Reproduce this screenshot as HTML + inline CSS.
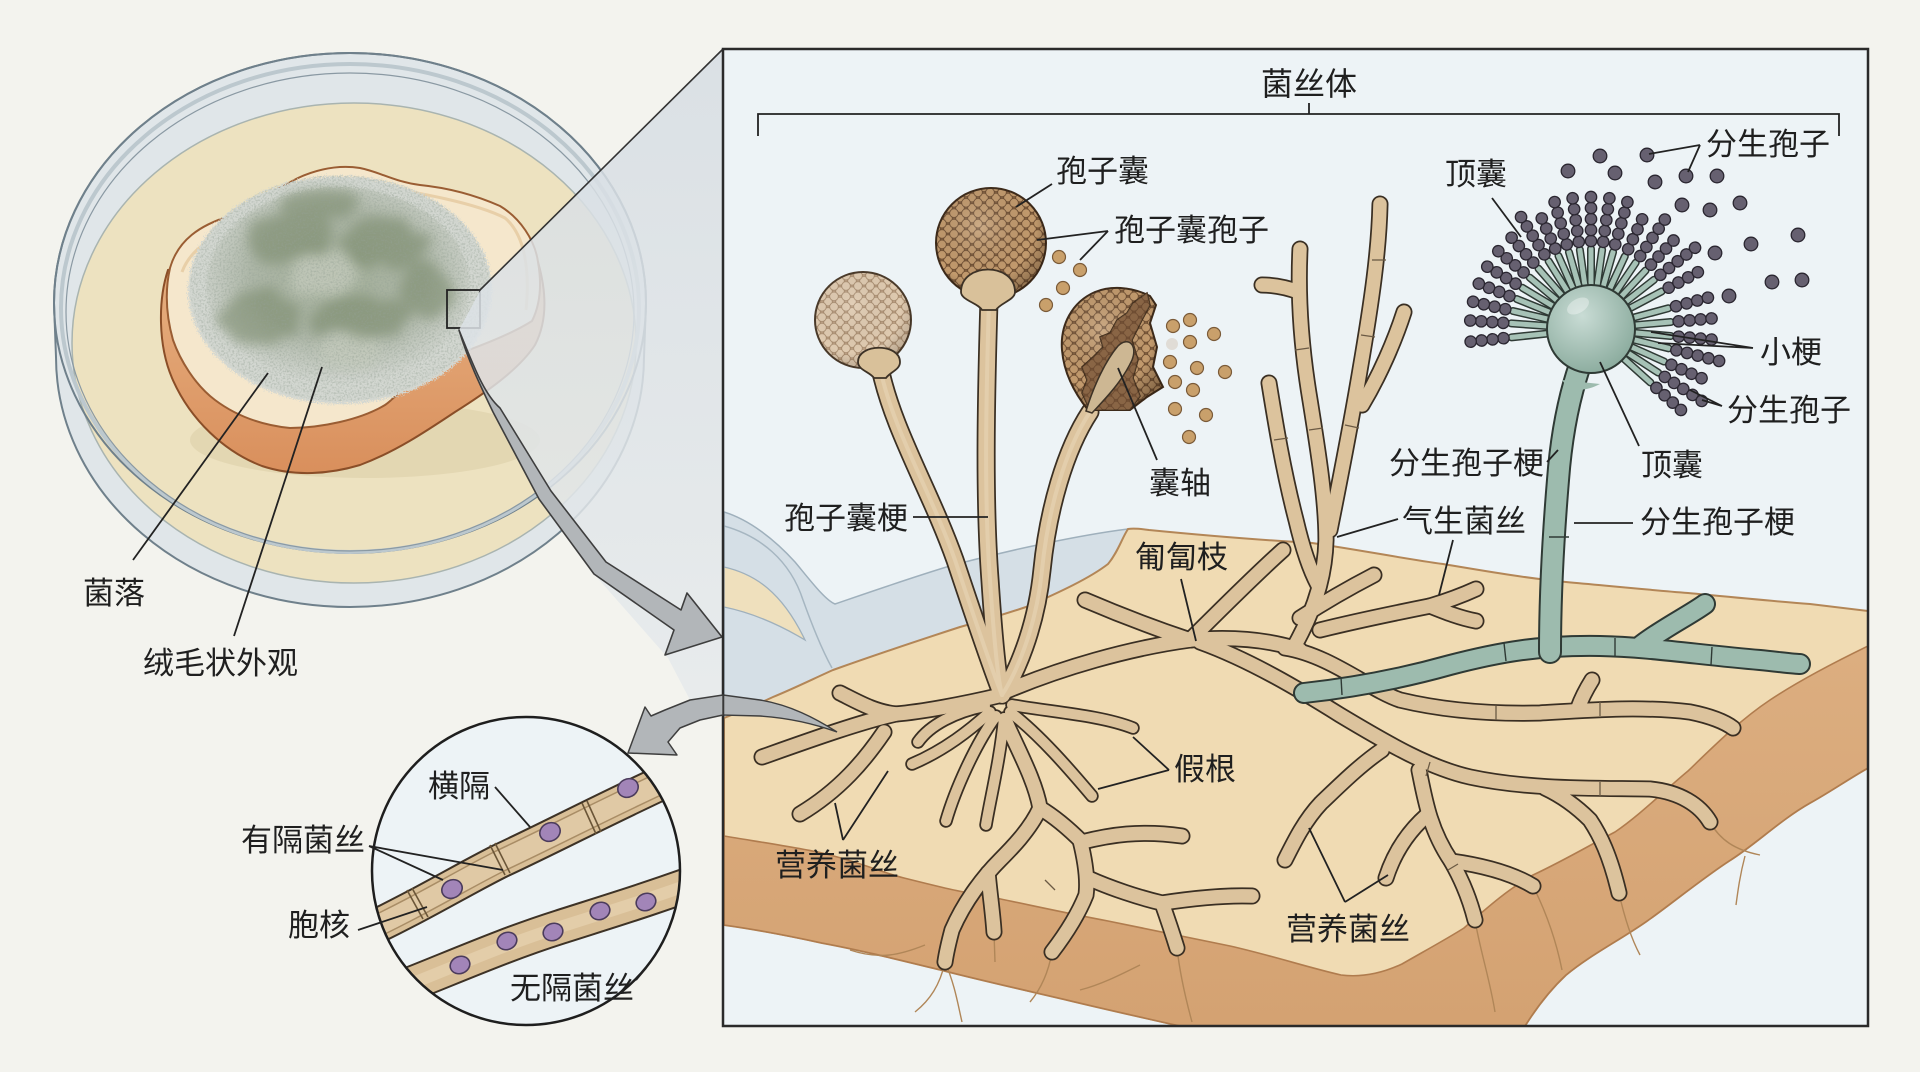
<!DOCTYPE html>
<html><head><meta charset="utf-8"><style>
html,body{margin:0;padding:0;background:#f3f3ee;overflow:hidden}
svg{display:block}
text{font-family:"Liberation Sans","Noto Sans CJK SC",sans-serif;font-size:31px;fill:#1f1f1f}
</style></head><body>
<svg xmlns="http://www.w3.org/2000/svg" width="1920" height="1072" viewBox="0 0 1920 1072">
<defs>
<pattern id="spD" patternUnits="userSpaceOnUse" width="12" height="10.4">
<rect width="12" height="10.4" fill="#83603f"/>
<circle cx="0" cy="0" r="4.3" fill="#c29a6d" stroke="#6a4a2f" stroke-width="0.8"/>
<circle cx="12" cy="0" r="4.3" fill="#c29a6d" stroke="#6a4a2f" stroke-width="0.8"/>
<circle cx="0" cy="10.4" r="4.3" fill="#c29a6d" stroke="#6a4a2f" stroke-width="0.8"/>
<circle cx="12" cy="10.4" r="4.3" fill="#c29a6d" stroke="#6a4a2f" stroke-width="0.8"/>
<circle cx="6" cy="5.2" r="4.3" fill="#c29a6d" stroke="#6a4a2f" stroke-width="0.8"/>
</pattern>
<pattern id="spL" patternUnits="userSpaceOnUse" width="12" height="10.4">
<rect width="12" height="10.4" fill="#bda185"/>
<circle cx="0" cy="0" r="4.3" fill="#dfcab0" stroke="#a3876a" stroke-width="0.8"/>
<circle cx="12" cy="0" r="4.3" fill="#dfcab0" stroke="#a3876a" stroke-width="0.8"/>
<circle cx="0" cy="10.4" r="4.3" fill="#dfcab0" stroke="#a3876a" stroke-width="0.8"/>
<circle cx="12" cy="10.4" r="4.3" fill="#dfcab0" stroke="#a3876a" stroke-width="0.8"/>
<circle cx="6" cy="5.2" r="4.3" fill="#dfcab0" stroke="#a3876a" stroke-width="0.8"/>
</pattern>
<radialGradient id="shade" cx="0.4" cy="0.35" r="0.7">
<stop offset="0" stop-color="#fff" stop-opacity="0.18"/>
<stop offset="0.7" stop-color="#000" stop-opacity="0"/>
<stop offset="1" stop-color="#2a1a0a" stop-opacity="0.35"/>
</radialGradient>
<radialGradient id="ves" cx="0.4" cy="0.35" r="0.7">
<stop offset="0" stop-color="#c9dcd5"/>
<stop offset="1" stop-color="#89aa9c"/>
</radialGradient>
<linearGradient id="wedgeG" x1="0" y1="0" x2="0" y2="1">
<stop offset="0" stop-color="#d6dde3"/>
<stop offset="1" stop-color="#e6eaec"/>
</linearGradient>
<linearGradient id="crust" x1="0" y1="0" x2="0" y2="1">
<stop offset="0" stop-color="#e8b384"/>
<stop offset="1" stop-color="#d98f5c"/>
</linearGradient>
<linearGradient id="faceG" x1="0" y1="0" x2="0" y2="1">
<stop offset="0" stop-color="#dcae80"/>
<stop offset="1" stop-color="#d4a272"/>
</linearGradient>
<radialGradient id="moldG" cx="0.5" cy="0.45" r="0.55">
<stop offset="0" stop-color="#a2ae98"/>
<stop offset="0.6" stop-color="#aeb7a8"/>
<stop offset="1" stop-color="#d2d6d0"/>
</radialGradient>
<filter id="fuzz" x="-15%" y="-15%" width="130%" height="130%">
<feTurbulence type="fractalNoise" baseFrequency="0.8" numOctaves="2" seed="3" result="n"/>
<feDisplacementMap in="SourceGraphic" in2="n" scale="10" xChannelSelector="R" yChannelSelector="G"/>
</filter>
<filter id="blob" x="-25%" y="-25%" width="150%" height="150%">
<feTurbulence type="fractalNoise" baseFrequency="0.035" numOctaves="3" seed="11" result="n"/>
<feDisplacementMap in="SourceGraphic" in2="n" scale="22" xChannelSelector="R" yChannelSelector="G" result="d"/>
<feGaussianBlur in="d" stdDeviation="6"/>
</filter>
<filter id="speck" x="0" y="0" width="100%" height="100%">
<feTurbulence type="fractalNoise" baseFrequency="0.55" numOctaves="2" seed="7" result="n"/>
<feColorMatrix in="n" type="matrix" values="0 0 0 0 0.3  0 0 0 0 0.36  0 0 0 0 0.3  0 0 0 -3 1.7" result="m"/>
<feComposite in="m" in2="SourceGraphic" operator="in"/>
</filter>
<clipPath id="boxClip"><rect x="724" y="50" width="1143" height="975"/></clipPath>
<clipPath id="circClip"><circle cx="526" cy="871" r="153"/></clipPath>
<clipPath id="moldClip"><ellipse cx="340" cy="288" rx="150" ry="113"/></clipPath>
<g id="chain4">
<line x1="40" y1="0" x2="80" y2="0" stroke="#2f3a35" stroke-width="8" stroke-linecap="round"/>
<line x1="40" y1="0" x2="80" y2="0" stroke="#a6c2b6" stroke-width="5" stroke-linecap="round"/>
<circle cx="88" cy="0" r="5.7"/><circle cx="99" cy="0" r="5.7"/><circle cx="110" cy="0" r="5.7"/><circle cx="121" cy="0" r="5.7"/>
</g>
<g id="chain5">
<use href="#chain4"/>
<circle cx="132" cy="0" r="5.7"/>
</g>
<g id="stalks">
<path d="M880,368 C893,430 930,490 955,560 C975,620 992,670 1002,695"/>
<path d="M989,300 C986,400 984,500 990,580 C994,640 998,680 1002,695"/>
<path d="M1090,412 C1065,450 1048,510 1042,570 C1036,630 1015,675 1002,695"/>
</g>
<g id="tanA">
<path d="M1002,695 C960,705 920,712 896,714 C875,712 858,702 840,693"/>
<path d="M896,714 C860,722 810,740 762,757"/>
<path d="M884,732 C865,760 840,790 800,814"/>
<path d="M1005,720 C1018,750 1035,780 1040,808 C1030,830 1010,850 1000,860 C985,875 965,900 952,930 C948,945 946,955 945,962"/>
<path d="M988,873 C990,895 993,915 994,932"/>
<path d="M1040,808 C1060,820 1075,835 1082,842 C1110,835 1140,830 1182,836"/>
<path d="M1080,840 C1085,860 1088,880 1086,895 C1078,915 1065,935 1052,952"/>
<path d="M1088,878 C1110,888 1140,898 1162,903 C1195,898 1225,895 1252,896"/>
<path d="M1162,903 C1168,920 1173,935 1177,948"/>
<path d="M1002,693 C1060,668 1130,648 1190,640 C1235,636 1270,640 1300,650"/>
<path d="M1190,640 C1160,630 1120,615 1085,600"/>
<path d="M1190,640 C1220,610 1255,575 1283,550"/>
<path d="M1200,642 C1250,660 1300,690 1340,715 C1390,745 1430,768 1470,777 C1530,790 1600,788 1650,789 C1680,792 1700,805 1710,822"/>
<path d="M1285,648 C1330,655 1370,690 1400,700 C1450,712 1500,714 1540,713 C1590,710 1640,706 1690,712 C1710,716 1725,722 1733,728"/>
<path d="M1578,708 C1582,697 1587,688 1592,680"/>
<path d="M1419,770 C1425,800 1430,830 1451,861 C1462,880 1470,900 1475,920"/>
<path d="M1451,861 C1480,865 1510,872 1533,886"/>
<path d="M1427,815 C1410,830 1395,850 1386,878"/>
<path d="M1545,788 C1560,795 1575,805 1590,820 C1600,835 1610,855 1619,893"/>
<path d="M1382,750 C1360,765 1340,785 1321,803 C1305,820 1295,840 1285,860"/>
<path d="M1300,618 C1320,605 1345,590 1374,575"/>
<path d="M1320,630 C1360,620 1400,612 1430,606 C1450,600 1465,594 1476,589"/>
<path d="M1430,606 C1445,612 1460,618 1476,621"/>
<path d="M1300,249 C1298,290 1300,340 1310,400 C1318,450 1326,500 1326,540 C1325,580 1312,615 1295,645"/>
<path d="M1299,292 C1288,288 1275,285 1262,285"/>
<path d="M1380,204 C1379,250 1372,300 1360,370 C1350,430 1338,490 1330,530"/>
<path d="M1404,312 C1395,340 1380,375 1362,405"/>
<path d="M1269,383 C1275,420 1283,470 1296,520 C1303,550 1310,570 1318,585"/>
</g>
<g id="tanB">
<path d="M990,712 C970,730 945,750 912,764"/>
<path d="M996,716 C975,745 955,790 946,821"/>
<path d="M1004,718 C1000,760 990,800 986,825"/>
<path d="M1010,712 C1040,735 1070,770 1092,796"/>
<path d="M1012,705 C1050,712 1100,715 1133,728"/>
<path d="M985,706 C955,712 930,725 918,742"/>
</g>
<path id="gst" d="M1304,693 C1350,688 1400,679 1450,665 C1500,652 1540,645 1600,646 C1650,647 1700,655 1760,660 C1780,662 1795,664 1800,664 M1640,646 C1660,630 1690,615 1705,604"/>
<path id="gstalk" d="M1550,652 C1550,600 1553,540 1558,480 C1561,440 1568,400 1580,365"/>
<path id="sep" d="M360,934 C420,906 460,881 500,861 C560,833 610,806 700,765"/>
<path id="asep" d="M380,996 C450,969 500,946 560,927 C610,911 650,899 710,877"/>
</defs>

<rect width="1920" height="1072" fill="#f3f3ee"/>

<!-- Petri dish -->
<path d="M54,303 A296,250 0 0 1 646,303 L644,357 A294,250 0 0 1 56,357 Z" fill="#e0e6e9" stroke="#6f808b" stroke-width="2"/>
<ellipse cx="354" cy="343" rx="282" ry="240" fill="#ede2c0" stroke="#a9b4b0" stroke-width="1.5"/>
<ellipse cx="350" cy="303" rx="296" ry="250" fill="none" stroke="#6f808b" stroke-width="2"/>
<ellipse cx="350" cy="308" rx="289" ry="244" fill="none" stroke="#bcc8ce" stroke-width="4"/>
<ellipse cx="350" cy="312" rx="284" ry="239" fill="none" stroke="#8a99a3" stroke-width="1.2"/>
<ellipse cx="365" cy="440" rx="175" ry="38" fill="#d9cca4" opacity="0.5"/>

<!-- Bread -->
<path d="M168,270 C158,300 158,345 172,378 C190,420 225,452 262,466 C295,477 330,474 360,465 C395,452 425,432 455,412 C490,390 520,368 535,345 C548,320 546,290 538,262 C520,240 300,240 168,270 Z" fill="url(#crust)" stroke="#8a4e28" stroke-width="2"/>
<path d="M170,268 C178,240 200,225 230,216 C250,208 265,195 298,178 C320,168 340,165 360,168 C380,172 395,182 420,185 C450,188 475,195 500,206 C520,218 535,240 538,262 C542,285 540,305 532,321 C510,335 470,350 440,360 C415,370 400,395 385,405 C360,420 320,428 290,428 C260,425 235,415 215,400 C195,385 180,360 173,340 C166,315 165,290 170,268 Z" fill="#f5e7cc" stroke="#9a5d33" stroke-width="2"/>
<path d="M182,272 C190,250 210,238 236,229 C262,215 300,188 355,182 C400,190 470,200 505,218 C525,235 530,270 526,310" fill="none" stroke="#e8cfa8" stroke-width="3"/>

<!-- Mold -->
<g filter="url(#fuzz)">
<ellipse cx="340" cy="290" rx="152" ry="114" fill="#d3d7d1"/>
<ellipse cx="338" cy="285" rx="132" ry="98" fill="url(#moldG)"/>
</g>
<g filter="url(#blob)" fill="#748565" opacity="0.55">
<ellipse cx="290" cy="240" rx="45" ry="26"/>
<ellipse cx="385" cy="245" rx="42" ry="25"/>
<ellipse cx="262" cy="318" rx="40" ry="28"/>
<ellipse cx="360" cy="318" rx="48" ry="22"/>
<ellipse cx="425" cy="290" rx="26" ry="30"/>
<ellipse cx="320" cy="205" rx="40" ry="16"/>
</g>
<g filter="url(#blob)" fill="#c5cbbd" opacity="0.8">
<ellipse cx="325" cy="275" rx="36" ry="22"/>
<ellipse cx="350" cy="350" rx="34" ry="14"/>
</g>
<rect x="185" y="172" width="310" height="235" fill="#fff" filter="url(#speck)" clip-path="url(#moldClip)" opacity="0.45"/>
<rect x="447" y="290" width="33" height="38" fill="none" stroke="#222" stroke-width="1.8"/>

<!-- labels left -->
<line x1="133" y1="560" x2="268" y2="373" stroke="#222" stroke-width="1.8"/>
<line x1="234" y1="636" x2="322" y2="367" stroke="#222" stroke-width="1.8"/>
<text x="83" y="604">菌落</text>
<text x="143" y="674">绒毛状外观</text>

<!-- projection wedge -->
<polygon points="480,291 723,49 723,697 690,700 668,658 594,574 539,499 493,412 459,330" fill="url(#wedgeG)" opacity="0.85"/>
<line x1="479" y1="291" x2="723" y2="49" stroke="#333" stroke-width="1.6"/>
<!-- upper arrow -->
<path d="M459,330 C475,370 485,395 500,408 L551,491 L606,562 L681,610 L687,593 L722,637 L665,655 L674,630 L594,574 L539,499 L493,412 C480,385 468,360 459,330 Z" fill="#b2b6b9" stroke="#3e3e3e" stroke-width="1.6" stroke-linejoin="round"/>

<!-- main box -->
<rect x="723" y="49" width="1145" height="977" fill="#edf3f6"/>
<g clip-path="url(#boxClip)">
<!-- glass tray -->
<path d="M724,512 C750,520 775,540 795,562 C810,580 825,600 835,604 C870,592 910,578 953,565 C1010,550 1080,535 1128,529 C1122,538 1118,552 1108,564 C1090,578 1060,592 1026,607 C1005,614 985,620 960,627 C920,640 875,655 833,670 C815,678 795,688 773,697 C760,703 745,710 724,718 Z" fill="#d5dfe6" stroke="#9fb0bc" stroke-width="1.5"/>
<path d="M724,526 C760,536 790,560 803,600 C812,625 822,650 832,668" fill="none" stroke="#a6b6c1" stroke-width="1.5"/>
<path d="M724,567 C755,574 782,592 805,640 C785,628 758,614 724,607 Z" fill="#efe0bd" stroke="#9fb0bc" stroke-width="1.3"/>
<!-- slab -->
<path d="M724,718 C745,710 760,703 773,697 C795,688 815,678 833,670 C875,655 920,640 960,627 C985,620 1005,614 1026,607 C1060,592 1090,578 1108,564 C1118,552 1122,538 1128,529 C1135,528 1142,529 1149,530 C1200,535 1260,540 1312,543 C1360,550 1400,558 1443,564 C1485,571 1525,578 1566,582 C1610,586 1650,590 1688,593 C1730,597 1770,601 1810,604 L1868,611 L1868,768 C1850,778 1830,792 1810,803 C1780,820 1755,845 1729,861 C1700,880 1670,905 1647,921 C1620,940 1590,955 1566,975 C1550,990 1535,1010 1525,1026 L1180,1026 C1140,1017 1100,1008 1067,1000 C1020,989 980,980 945,971 C900,960 860,950 822,943 C790,936 760,930 724,925 Z" fill="#f0dbb3" stroke="#b38657" stroke-width="2"/>
<path d="M724,836 C760,842 800,848 822,853 C860,862 880,872 904,878 C940,887 960,892 986,896 C1030,905 1070,914 1108,921 C1150,930 1190,938 1230,946 C1270,955 1310,968 1341,975 C1365,978 1385,972 1402,964 C1430,948 1450,937 1464,928 C1490,905 1510,888 1533,875 C1565,860 1590,845 1615,832 C1640,815 1665,790 1688,771 C1715,745 1740,720 1770,700 C1800,680 1835,662 1868,646 L1868,768 C1850,778 1830,792 1810,803 C1780,820 1755,845 1729,861 C1700,880 1670,905 1647,921 C1620,940 1590,955 1566,975 C1550,990 1535,1010 1525,1026 L1180,1026 C1140,1017 1100,1008 1067,1000 C1020,989 980,980 945,971 C900,960 860,950 822,943 C790,936 760,930 724,925 Z" fill="url(#faceG)" stroke="#b07c4e" stroke-width="1.6"/>

<!-- faint roots in face -->
<g fill="none" stroke="#b08658" stroke-width="1.4">
<path d="M945,962 C940,985 930,1000 915,1012 M945,962 C955,985 958,1005 962,1022 M994,932 L995,962 M1052,952 C1048,975 1040,990 1030,1002 M1177,948 C1180,975 1186,1000 1192,1022 M1475,920 C1480,950 1490,980 1495,1012 M1533,886 C1545,910 1556,940 1562,970 M1619,893 C1625,920 1632,940 1640,955 M1710,822 C1720,840 1735,850 1760,855 M1745,856 C1740,875 1738,890 1736,905 M850,950 C880,960 900,955 925,945 M1080,990 C1100,985 1120,975 1140,965"/>
</g>

<!-- tan hyphae -->
<g fill="none" stroke-linecap="round" stroke-linejoin="round">
<use href="#stalks" stroke="#3a2f23" stroke-width="19"/>
<use href="#tanA" stroke="#3a2f23" stroke-width="17"/>
<use href="#tanB" stroke="#3a2f23" stroke-width="13.5"/>
<use href="#stalks" stroke="#dcc39d" stroke-width="15.5"/>
<use href="#tanA" stroke="#dcc39d" stroke-width="13.5"/>
<use href="#tanB" stroke="#dcc39d" stroke-width="10"/>
<use href="#stalks" stroke="#e8d6b6" stroke-width="4" opacity="0.6"/>
</g>
<!-- septa -->
<g stroke="#6b5a44" stroke-width="1.3">
<line x1="1372" y1="260" x2="1386" y2="260"/><line x1="1361" y1="335" x2="1375" y2="337"/><line x1="1345" y1="425" x2="1359" y2="428"/>
<line x1="1295" y1="350" x2="1309" y2="348"/><line x1="1309" y1="430" x2="1323" y2="428"/><line x1="1274" y1="440" x2="1288" y2="438"/>
<line x1="1496" y1="706" x2="1496" y2="720"/><line x1="1600" y1="702" x2="1600" y2="716"/><line x1="1430" y1="762" x2="1426" y2="776"/>
<line x1="1600" y1="782" x2="1600" y2="796"/><line x1="1448" y1="870" x2="1458" y2="864"/><line x1="1045" y1="880" x2="1055" y2="890"/>
</g>

<!-- Rhizopus sporangia -->
<circle cx="863" cy="320" r="48" fill="url(#spL)" stroke="#4a3a2a" stroke-width="2"/>
<circle cx="863" cy="320" r="48" fill="url(#shade)" opacity="0.6"/>
<path d="M858,362 C858,343 900,343 900,362 C900,370 890,372 886,378 L874,378 C870,372 858,370 858,362 Z" fill="#d9c19a" stroke="#3d3226" stroke-width="1.8"/>
<circle cx="991" cy="243" r="55" fill="url(#spD)" stroke="#3d2a1a" stroke-width="2"/>
<circle cx="991" cy="243" r="55" fill="url(#shade)"/>
<path d="M961,292 C961,262 1015,262 1015,292 C1015,300 1000,303 996,310 L982,310 C978,303 961,300 961,292 Z" fill="#d9c19a" stroke="#3d3226" stroke-width="1.8"/>
<!-- broken sporangium -->
<path d="M1150,296 C1130,286 1110,286 1095,292 C1072,302 1060,325 1062,350 C1064,375 1076,395 1088,410 L1130,410 L1147,397 L1163,387 L1153,367 L1157,347 L1150,323 L1156,305 Z" fill="url(#spD)" stroke="#3d2a1a" stroke-width="2"/>
<path d="M1150,296 C1130,286 1110,286 1095,292 C1072,302 1060,325 1062,350 C1064,375 1076,395 1088,410 L1130,410 L1147,397 L1163,387 L1153,367 L1157,347 L1150,323 L1156,305 Z" fill="url(#shade)"/>
<path d="M1147,293 L1133,303 L1127,313 L1117,320 L1110,333 L1100,337 L1103,347 L1093,357 L1082,367 L1087,380 L1082,393 L1090,410 L1130,410 L1140,396 L1133,378 L1138,360 L1132,340 L1142,320 L1150,305 Z" fill="#6b4930" stroke="#3d2a1a" stroke-width="1.5"/>
<path d="M1147,293 L1133,303 L1127,313 L1117,320 L1110,333 L1100,337 L1103,347 L1093,357 L1082,367 L1087,380 L1082,393 L1090,410 L1130,410 L1140,396 L1133,378 L1138,360 L1132,340 L1142,320 L1150,305 Z" fill="url(#spD)" opacity="0.35"/>
<path d="M1086,411 C1094,385 1106,360 1118,346 C1128,336 1138,345 1132,360 C1122,382 1104,400 1092,413 Z" fill="#cdb793" stroke="#3d3226" stroke-width="1.5"/>
<!-- spores -->
<g fill="#c9a06b" stroke="#7a5a38" stroke-width="1.2">
<circle cx="1059" cy="257" r="6.5"/><circle cx="1080" cy="270" r="6.5"/><circle cx="1063" cy="288" r="6.5"/><circle cx="1046" cy="305" r="6.5"/>
<circle cx="1173" cy="326" r="6.5"/><circle cx="1190" cy="320" r="6.5"/><circle cx="1214" cy="334" r="6.5"/><circle cx="1190" cy="342" r="6.5"/>
<circle cx="1170" cy="362" r="6.5"/><circle cx="1197" cy="368" r="6.5"/><circle cx="1225" cy="372" r="6.5"/>
<circle cx="1175" cy="382" r="6.5"/><circle cx="1193" cy="390" r="6.5"/><circle cx="1175" cy="409" r="6.5"/><circle cx="1206" cy="415" r="6.5"/><circle cx="1189" cy="437" r="6.5"/>
</g>
<circle cx="1172" cy="344" r="6" fill="#e0dcd6"/>

<!-- Aspergillus -->
<g fill="none" stroke-linecap="round" stroke-linejoin="round">
<use href="#gst" stroke="#2f3a35" stroke-width="22"/>
<use href="#gst" stroke="#9dbbae" stroke-width="18"/>
<use href="#gstalk" stroke="#2f3a35" stroke-width="24"/>
<use href="#gstalk" stroke="#9dbbae" stroke-width="20"/>
</g>
<g stroke="#2f3a35" stroke-width="1.4">
<line x1="1341" y1="677" x2="1342" y2="695"/><line x1="1504" y1="643" x2="1506" y2="661"/><line x1="1615" y1="638" x2="1615" y2="656"/><line x1="1712" y1="647" x2="1711" y2="665"/><line x1="1549" y1="537" x2="1569" y2="537"/>
</g>
<g fill="#666070" stroke="#2a2630" stroke-width="1.3" transform="translate(1591,329)">
<use href="#chain4" transform="rotate(42)"/>
<use href="#chain5" transform="rotate(33)"/>
<use href="#chain4" transform="rotate(24)"/>
<use href="#chain5" transform="rotate(14)"/>
<use href="#chain4" transform="rotate(5)"/>
<use href="#chain4" transform="rotate(-5)"/>
<use href="#chain4" transform="rotate(-15)"/>
<use href="#chain4" transform="rotate(-28)"/>
<use href="#chain5" transform="rotate(-38)"/>
<use href="#chain4" transform="rotate(-47)"/>
<use href="#chain5" transform="rotate(-56)"/>
<use href="#chain4" transform="rotate(-65)"/>
<use href="#chain5" transform="rotate(-74)"/>
<use href="#chain5" transform="rotate(-82)"/>
<use href="#chain5" transform="rotate(-90)"/>
<use href="#chain5" transform="rotate(-98)"/>
<use href="#chain5" transform="rotate(-106)"/>
<use href="#chain4" transform="rotate(-114)"/>
<use href="#chain5" transform="rotate(-122)"/>
<use href="#chain4" transform="rotate(-131)"/>
<use href="#chain4" transform="rotate(-140)"/>
<use href="#chain4" transform="rotate(-149)"/>
<use href="#chain4" transform="rotate(-158)"/>
<use href="#chain4" transform="rotate(-167)"/>
<use href="#chain4" transform="rotate(-176)"/>
<use href="#chain4" transform="rotate(174)"/>
</g>
<circle cx="1591" cy="329" r="44" fill="url(#ves)" stroke="#2f3a35" stroke-width="2"/>
<path d="M1562,380 C1570,392 1585,392 1600,384" fill="#9dbbae" stroke="none"/>
<ellipse cx="1578" cy="306" rx="12" ry="7" fill="#ffffff" opacity="0.35" transform="rotate(-30 1578 306)"/>
<g fill="#666070" stroke="#2a2630" stroke-width="1.3">
<circle cx="1568" cy="171" r="6.8"/><circle cx="1600" cy="156" r="6.8"/><circle cx="1615" cy="173" r="6.8"/><circle cx="1647" cy="155" r="6.8"/>
<circle cx="1655" cy="182" r="6.8"/><circle cx="1686" cy="176" r="6.8"/><circle cx="1717" cy="176" r="6.8"/><circle cx="1682" cy="205" r="6.8"/>
<circle cx="1710" cy="210" r="6.8"/><circle cx="1740" cy="203" r="6.8"/><circle cx="1798" cy="235" r="6.8"/><circle cx="1751" cy="244" r="6.8"/>
<circle cx="1715" cy="253" r="6.8"/><circle cx="1772" cy="282" r="6.8"/><circle cx="1802" cy="280" r="6.8"/><circle cx="1729" cy="296" r="6.8"/>
</g>

<!-- lower arrow tail inside box -->
<path d="M837,732 C815,718 790,705 760,700 L723,695 L723,715 L760,716 C790,718 815,724 837,732 Z" fill="#b2b6b9" stroke="#3e3e3e" stroke-width="1.4"/>

<!-- leader lines inside box -->
<g stroke="#222" stroke-width="1.8" fill="none">
<path d="M758,136 L758,114 L1839,114 L1839,136 M1309,114 L1309,103"/>
<path d="M1052,184 L1016,207"/>
<path d="M1108,231 L1037,240 M1108,231 L1080,260"/>
<path d="M1157,460 L1118,368"/>
<path d="M913,517 L988,517"/>
<path d="M1181,579 L1196,641"/>
<path d="M1169,770 L1133,737 M1169,770 L1098,789"/>
<path d="M843,840 L835,803 M843,840 L888,771"/>
<path d="M1345,902 L1309,828 M1345,902 L1388,875"/>
<path d="M1492,198 L1521,237"/>
<path d="M1700,145 L1649,154 M1700,145 L1688,172"/>
<path d="M1753,348 L1651,332 M1753,348 L1658,343"/>
<path d="M1722,406 L1690,390 M1722,406 L1702,400"/>
<path d="M1639,446 L1600,362"/>
<path d="M1547,462 L1558,450"/>
<path d="M1574,523 L1633,523"/>
<path d="M1398,519 L1337,537 M1453,540 L1439,595"/>
</g>
<text x="1261" y="95" style="font-size:32px">菌丝体</text>
<text x="1056" y="182">孢子囊</text>
<text x="1114" y="241">孢子囊孢子</text>
<text x="1149" y="494">囊轴</text>
<text x="784" y="529">孢子囊梗</text>
<text x="1135" y="568">匍匐枝</text>
<text x="1445" y="185">顶囊</text>
<text x="1706" y="155">分生孢子</text>
<text x="1760" y="363">小梗</text>
<text x="1727" y="421">分生孢子</text>
<text x="1641" y="476">顶囊</text>
<text x="1389" y="474">分生孢子梗</text>
<text x="1640" y="533">分生孢子梗</text>
<text x="1402" y="532">气生菌丝</text>
<text x="1174" y="780">假根</text>
<text x="775" y="876">营养菌丝</text>
<text x="1286" y="940">营养菌丝</text>
</g>
<rect x="723" y="49" width="1145" height="977" fill="none" stroke="#2a2a2a" stroke-width="2.5"/>

<!-- lower arrow outside -->
<path d="M723,695 L690,700 L665,710 L651,716 L645,707 L628,753 L677,755 L668,742 L680,728 L700,720 L723,715 Z" fill="#b2b6b9" stroke="#3e3e3e" stroke-width="1.5" stroke-linejoin="round"/>

<!-- circle inset -->
<circle cx="526" cy="871" r="154" fill="#edf3f6"/>
<g clip-path="url(#circClip)" fill="none" stroke-linecap="butt">
<use href="#sep" stroke="#3d3226" stroke-width="36"/>
<use href="#sep" stroke="#d9bf97" stroke-width="32"/>
<use href="#sep" stroke="#a98d66" stroke-width="23"/>
<use href="#sep" stroke="#e0c9a5" stroke-width="20"/>
<use href="#asep" stroke="#3d3226" stroke-width="36"/>
<use href="#asep" stroke="#d9bf97" stroke-width="32"/>
<use href="#asep" stroke="#e3cda9" stroke-width="12"/>
<g stroke="#6b5638" stroke-width="1.6">
<line x1="407" y1="890" x2="423" y2="919"/><line x1="412" y1="888" x2="428" y2="917"/>
<line x1="490" y1="845" x2="505" y2="875"/><line x1="495" y1="843" x2="510" y2="873"/>
<line x1="582" y1="803" x2="596" y2="834"/><line x1="587" y1="801" x2="601" y2="832"/>
</g>
</g>
<g fill="#a285b8" stroke="#4b3b5c" stroke-width="1.6">
<ellipse cx="452" cy="889" rx="10.5" ry="9" transform="rotate(-28 452 889)"/>
<ellipse cx="550" cy="832" rx="10.5" ry="9" transform="rotate(-28 550 832)"/>
<ellipse cx="628" cy="788" rx="10.5" ry="9" transform="rotate(-28 628 788)"/>
<ellipse cx="460" cy="965" rx="10" ry="8.5" transform="rotate(-22 460 965)"/>
<ellipse cx="507" cy="941" rx="10" ry="8.5" transform="rotate(-22 507 941)"/>
<ellipse cx="553" cy="932" rx="10" ry="8.5" transform="rotate(-22 553 932)"/>
<ellipse cx="600" cy="911" rx="10" ry="8.5" transform="rotate(-22 600 911)"/>
<ellipse cx="646" cy="902" rx="10" ry="8.5" transform="rotate(-22 646 902)"/>
</g>
<circle cx="526" cy="871" r="154" fill="none" stroke="#1e1e1e" stroke-width="2.5"/>
<g stroke="#222" stroke-width="1.8" fill="none">
<path d="M495,787 L530,827"/>
<path d="M369,846 L443,880 M369,846 L503,870"/>
<path d="M358,930 L427,907"/>
<path d="M636,980 L646,968"/>
</g>
<text x="428" y="797">横隔</text>
<text x="241" y="851">有隔菌丝</text>
<text x="288" y="936">胞核</text>
<text x="510" y="999">无隔菌丝</text>
</svg>
</body></html>
